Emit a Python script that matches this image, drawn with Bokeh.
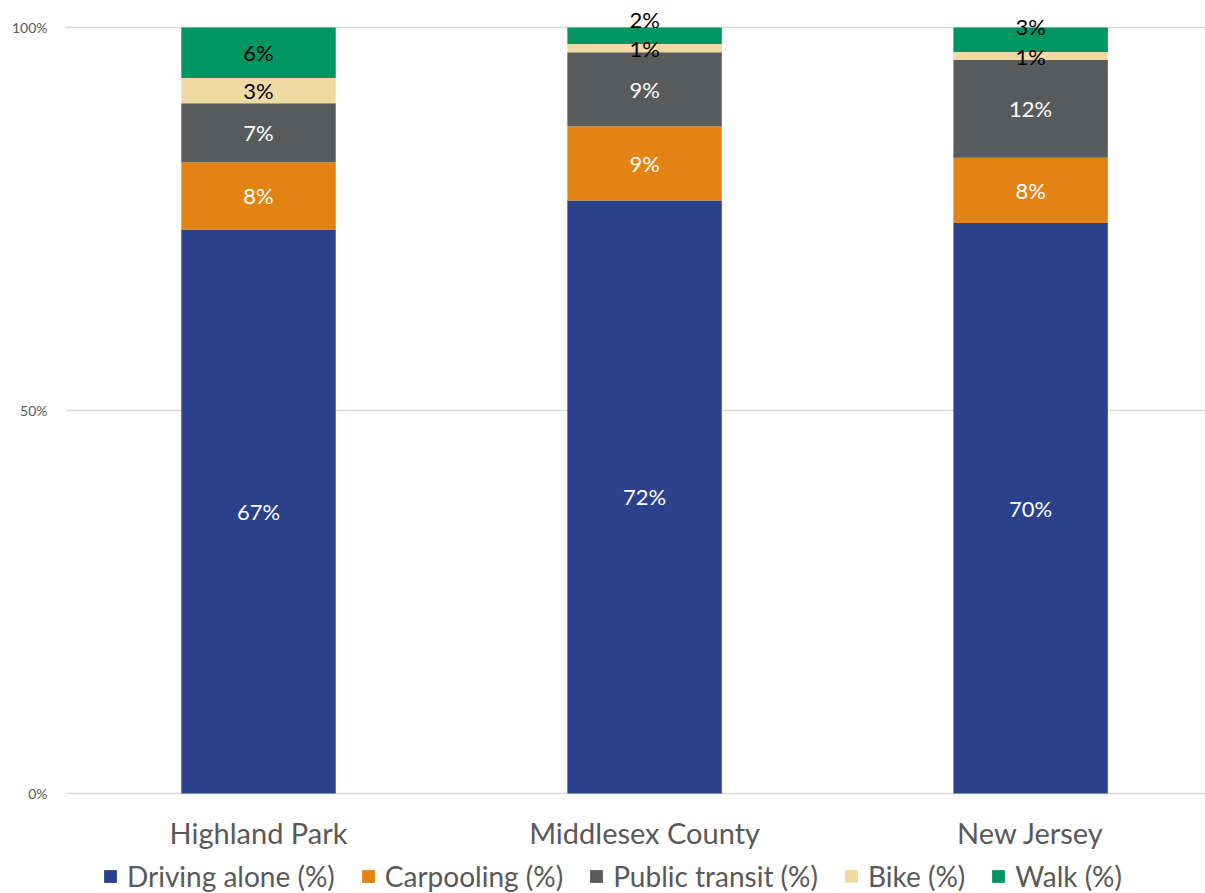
from bokeh.plotting import figure
from bokeh.models import ColumnDataSource, Range1d, FixedTicker, NumeralTickFormatter, Legend, LegendItem
from bokeh.core.properties import value
from bokeh.embed import file_html
from bokeh.resources import INLINE

places = ["Highland Park", "Middlesex County", "New Jersey"]
modes = ["Driving alone (%)", "Carpooling (%)", "Public transit (%)", "Bike (%)", "Walk (%)"]
driving = [67, 72, 70]
carpool = [8, 9, 8]
transit = [7, 9, 12]
bike = [3, 1, 1]
walk = [6, 2, 3]
colors = ["#2C418B", "#E28314", "#595A5C", "#EFDBA1", "#009664"]
label_colors = ["white", "white", "white", "black", "black"]

series = [driving, carpool, transit, bike, walk]
keys = ["d", "c", "t", "b", "w"]
FONT = "Lato"
GREY = "#595959"

# pixel nudges for crowded labels (series index, place index) -> dy in px (positive = up)
nudges = {(4, 1): 16, (4, 2): 13}

xs = list(range(len(places)))
totals = [sum(s[i] for s in series) for i in xs]
data = {"x": xs}
for k, s in zip(keys, series):
    data[k] = [s[i] / totals[i] for i in xs]
source = ColumnDataSource(data)

PX_PER_UNIT = 766.0
FRAME_H = 889
Y_END = 1.03
p = figure(frame_width=1140, frame_height=FRAME_H, output_backend="svg", toolbar_location=None,
           x_range=Range1d(-0.5, 2.453), y_range=Range1d(Y_END - FRAME_H / PX_PER_UNIT, Y_END),
           min_border_left=65, min_border_right=0, min_border_top=4, min_border_bottom=0)

renderers = p.vbar_stack(keys, x="x", width=0.4, color=colors, source=source, line_width=0)

# data labels
for j, (k, s) in enumerate(zip(keys, series)):
    ys, txt, offs = [], [], []
    for i in xs:
        base = sum(data[kk][i] for kk in keys[:j])
        ys.append(base + data[k][i] / 2)
        txt.append(f"{s[i]}%")
        offs.append(-nudges.get((j, i), 0))
    lsrc = ColumnDataSource(dict(x=xs, y=ys, text=txt, off=offs))
    p.text(x="x", y="y", text="text", y_offset="off", source=lsrc,
           text_align="center", text_baseline="middle",
           text_font=value(FONT), text_font_size="22px", text_color=label_colors[j])

# category labels under the bars
p.text(x=xs, y=[0] * len(xs), text=places, y_offset=39, text_align="center",
       text_baseline="alphabetic", text_font=value(FONT), text_font_size="29px",
       text_color=GREY)

p.outline_line_color = None
p.xgrid.grid_line_color = None
p.ygrid.grid_line_color = "#d9d9d9"
p.ygrid.grid_line_width = 1.5
p.xaxis.visible = False

p.yaxis.ticker = FixedTicker(ticks=[0, 0.5, 1.0])
p.yaxis.formatter = NumeralTickFormatter(format="0%")
p.yaxis.axis_line_color = None
p.yaxis.major_tick_line_color = None
p.yaxis.minor_tick_line_color = None
p.yaxis.major_label_standoff = 12
p.yaxis.major_label_text_font = FONT
p.yaxis.major_label_text_font_size = "14px"
p.yaxis.major_label_text_color = GREY

legend = Legend(items=[LegendItem(label=m, renderers=[r]) for m, r in zip(modes, renderers)],
                orientation="horizontal", location=(37, 0),
                label_text_font=FONT, label_text_font_size="28px", label_text_color=GREY,
                glyph_width=16, glyph_height=16, label_standoff=9, spacing=25, label_height=20,
                border_line_color=None, background_fill_alpha=0, padding=0, margin=0)
p.add_layout(legend, "center")

open("out.html", "w").write(file_html(p, INLINE))
